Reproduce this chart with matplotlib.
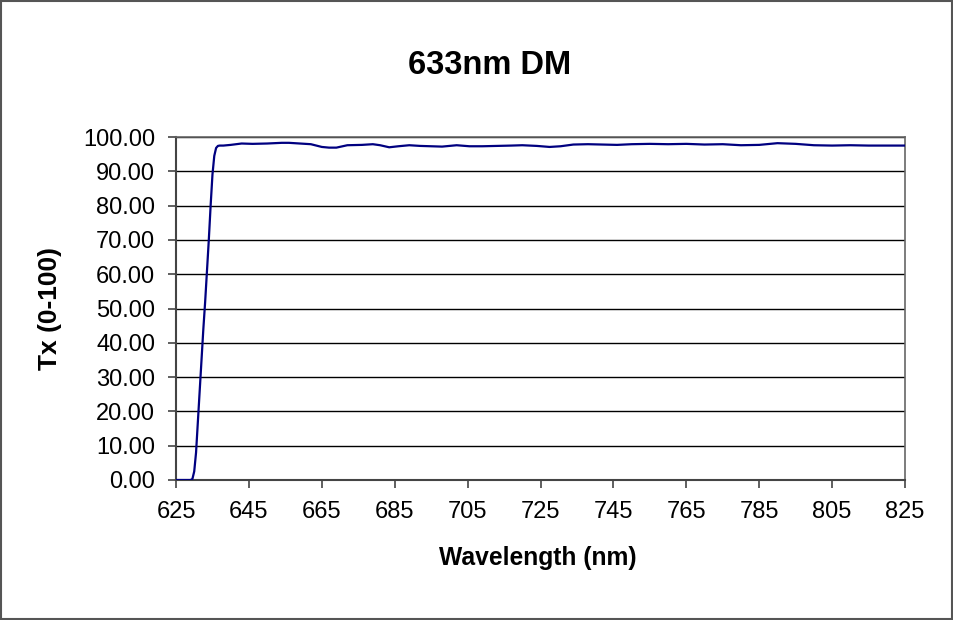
import matplotlib
matplotlib.use("Agg")
import matplotlib.pyplot as plt
from matplotlib.patches import Rectangle
from matplotlib.ticker import FormatStrFormatter

plt.rcParams['font.family'] = ['Liberation Sans', 'DejaVu Sans']

title = "633nm DM"
x_label = "Wavelength (nm)"
y_label = "Tx (0-100)"

wavelength = [625, 626, 627, 628, 629, 629.5, 630, 630.5, 631, 631.5, 632, 632.5,
              633, 633.5, 634, 634.5, 635, 635.5, 636, 636.5, 637, 638, 640, 643,
              646, 650, 654, 656, 659, 662, 665, 667, 669, 672, 676, 679, 681,
              683.5, 686, 689, 692, 695, 698, 702, 705.5, 709, 713, 717, 720, 724,
              727.5, 730.5, 734, 738, 742, 746, 750, 755, 760, 765, 770, 775, 780,
              785, 790, 795, 800, 805, 810, 815, 820, 825]
transmission = [0.0, 0.0, 0.0, 0.0, 0.0, 0.3, 2.5, 8.0, 17.0, 26.0, 35.0, 44.0,
                52.0, 61.0, 70.0, 80.0, 89.0, 94.5, 96.8, 97.4, 97.5, 97.5, 97.7, 98.1,
                98.0, 98.1, 98.3, 98.3, 98.1, 97.9, 97.1, 96.9, 96.9, 97.6, 97.7, 97.9, 97.6,
                97.0, 97.3, 97.6, 97.4, 97.3, 97.2, 97.6, 97.3, 97.3, 97.4, 97.5, 97.6, 97.4,
                97.1, 97.3, 97.8, 97.9, 97.8, 97.7, 97.9, 98.0, 97.9, 98.0, 97.8, 97.9, 97.6,
                97.7, 98.2, 98.0, 97.6, 97.5, 97.6, 97.5, 97.5, 97.5]

x_ticks = [625, 645, 665, 685, 705, 725, 745, 765, 785, 805, 825]
y_ticks = [0, 10, 20, 30, 40, 50, 60, 70, 80, 90, 100]

W, H = 954, 620
fig = plt.figure(figsize=(W / 100, H / 100), dpi=100)
fig.patch.set_facecolor('white')
fig.patches.append(Rectangle((0.001, 0.002), 0.997, 0.996, transform=fig.transFigure,
                             fill=False, edgecolor='#555555', linewidth=1.5))

ax = fig.add_axes([176 / W, 1 - 480 / H, (905 - 176) / W, (480 - 137) / H])
ax.plot(wavelength, transmission, color='#000080', linewidth=1.6, zorder=3)
ax.set_xlim(625, 825)
ax.set_ylim(0, 100)
ax.set_xticks(x_ticks)
ax.set_yticks(y_ticks)
ax.yaxis.set_major_formatter(FormatStrFormatter('%.2f'))
ax.grid(axis='y', color='black', linewidth=1.0)
ax.set_axisbelow(True)
for side in ['left', 'bottom']:
    ax.spines[side].set_color('#444444')
    ax.spines[side].set_linewidth(1.5)
for side in ['top', 'right']:
    ax.spines[side].set_color('#666666')
    ax.spines[side].set_linewidth(1.2)
ax.tick_params(axis='both', direction='out', length=6, width=1.2, color='#444444',
               labelsize=17, pad=9)

fig.text(490 / W, 1 - 66 / H, title, ha='center', va='center', fontsize=23.5, fontweight='bold')
fig.text(538 / W, 1 - 558 / H, x_label, ha='center', va='center', fontsize=17.7, fontweight='bold')
fig.text(50 / W, 1 - 309 / H, y_label, ha='center', va='center', fontsize=19, fontweight='bold',
         rotation=90)

fig.savefig('out.png', dpi=100)
